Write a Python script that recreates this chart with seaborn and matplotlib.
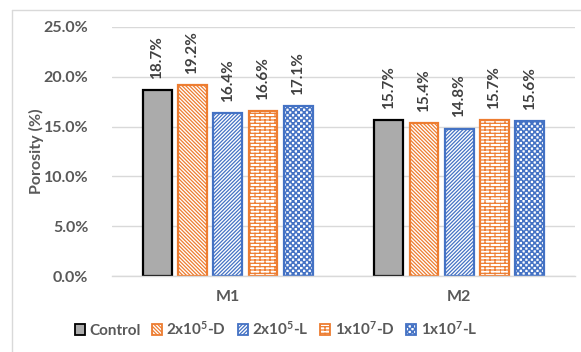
import numpy as np
import pandas as pd
import matplotlib
matplotlib.use("Agg")
import matplotlib.pyplot as plt
import matplotlib.hatch as mhatch
import matplotlib.patches as mpatches
from matplotlib.lines import Line2D
from matplotlib.path import Path
import seaborn as sns

# ---------------- data ----------------
groups = ["M1", "M2"]
series = ["Control", "2x10$^5$-D", "2x10$^5$-L", "1x10$^7$-D", "1x10$^7$-L"]
m1_values = [0.187, 0.192, 0.164, 0.166, 0.171]
m2_values = [0.157, 0.154, 0.148, 0.157, 0.156]
y_ticks = [0.0, 0.05, 0.10, 0.15, 0.20, 0.25]

# ---------------- custom hatch patterns (brick & checkerboard) ----------------
class BrickHatch(mhatch.HatchPatternBase):
    def __init__(self, hatch, density):
        self.rows = int(hatch.count('o') * density)
        if self.rows % 2:
            self.rows += 1
        self.cols = max(self.rows // 3, 1)
        self.num_vertices = (self.rows * 2 + self.rows * self.cols * 2) if self.rows else 0

    def set_vertices_and_codes(self, vertices, codes):
        n, m = self.rows, self.cols
        i = 0
        for k in range(n):
            y = k / n
            vertices[i] = (0.0, y); codes[i] = Path.MOVETO; i += 1
            vertices[i] = (1.0, y); codes[i] = Path.LINETO; i += 1
            off = 0.0 if k % 2 == 0 else 0.5 / m
            for j in range(m):
                x = j / m + off
                vertices[i] = (x, y); codes[i] = Path.MOVETO; i += 1
                vertices[i] = (x, y + 1.0 / n); codes[i] = Path.LINETO; i += 1


class CheckerHatch(mhatch.HatchPatternBase):
    def __init__(self, hatch, density):
        self.n = int(hatch.count('O') * density)
        if self.n % 2:
            self.n += 1
        self.num_squares = (self.n * self.n) // 2
        self.num_vertices = self.num_squares * 5

    def set_vertices_and_codes(self, vertices, codes):
        n = self.n
        s = 1.0 / n
        d = 0.004  # inset so that the stroke does not swallow the white cells
        i = 0
        for r in range(n):
            for c in range(n):
                if (r + c) % 2:
                    continue
                x0, y0 = c * s + d, r * s + d
                w = s - 2 * d
                pts = [(x0, y0), (x0 + w, y0), (x0 + w, y0 + w), (x0, y0 + w), (x0, y0)]
                for p_i, p in enumerate(pts):
                    vertices[i] = p
                    codes[i] = Path.MOVETO if p_i == 0 else (Path.CLOSEPOLY if p_i == 4 else Path.LINETO)
                    i += 1


mhatch._hatch_types[:] = [
    mhatch.HorizontalHatch, mhatch.VerticalHatch, mhatch.NorthEastHatch,
    mhatch.SouthEastHatch, mhatch.SmallFilledCircles, mhatch.Stars,
    BrickHatch, CheckerHatch,
]

# ---------------- style ----------------
sns.set_theme(style="white")
FONT = "Lato"
plt.rcParams["font.family"] = [FONT, "DejaVu Sans"]
plt.rcParams["hatch.linewidth"] = 0.9
plt.rcParams["mathtext.fontset"] = "custom"
plt.rcParams["mathtext.rm"] = FONT
plt.rcParams["mathtext.bf"] = FONT + ":bold"
plt.rcParams["mathtext.default"] = "bf"

TXT = "#595959"
ORANGE = "#ED7D31"
BLUE = "#4472C4"
GRAY = "#ABABAB"

styles = [
    dict(facecolor=GRAY, edgecolor="black", hatch=None, lw=1.6),
    dict(facecolor="white", edgecolor=ORANGE, hatch="\\" * 9, lw=1.6),
    dict(facecolor="white", edgecolor=BLUE, hatch="/" * 9, lw=1.6),
    dict(facecolor="white", edgecolor=ORANGE, hatch="ooooo", lw=1.6),
    dict(facecolor="white", edgecolor=BLUE, hatch="OOOOOO", lw=1.6),
]

df = pd.DataFrame({
    "group": [g for g in groups for _ in series],
    "series": series * len(groups),
    "value": m1_values + m2_values,
})

fig = plt.figure(figsize=(5.81, 3.52), dpi=100)
ax = fig.add_axes([112 / 581, 1 - 276 / 352, (575 - 112) / 581, (276 - 27) / 352])

sns.barplot(data=df, x="group", y="value", hue="series", hue_order=series,
            order=groups, width=0.762, gap=0.18, ax=ax, legend=False,
            palette=[GRAY] * 5, saturation=1)

for cont, st, vals in zip(ax.containers, styles, zip(m1_values, m2_values)):
    for p in cont.patches:
        p.set_facecolor(st["facecolor"])
        p.set_edgecolor(st["edgecolor"])
        p.set_linewidth(st["lw"])
        if st["hatch"]:
            p.set_hatch(st["hatch"])
    ax.bar_label(cont, labels=[f"{v * 100:.1f}%" for v in vals], rotation=90,
                 padding=8, fontsize=11, fontweight="bold", color="#404040")

ax.set_ylim(0, 0.25)
ax.set_yticks(y_ticks)
ax.set_yticklabels([f"{t * 100:.1f}%" for t in y_ticks])
ax.grid(axis="y", color="#D9D9D9", lw=1.0)
ax.set_axisbelow(True)
for s in ["top", "right", "left"]:
    ax.spines[s].set_visible(False)
ax.spines["bottom"].set_color("#D9D9D9")
ax.spines["bottom"].set_linewidth(1.0)
ax.tick_params(axis="y", length=0, pad=17, labelsize=11.5, labelcolor=TXT)
ax.tick_params(axis="x", length=0, pad=10, labelsize=11.5, labelcolor=TXT)
for lab in ax.get_xticklabels() + ax.get_yticklabels():
    lab.set_fontweight("bold")
ax.set_xlabel("")
ax.set_ylabel("Porosity (%)", fontsize=11.5, fontweight="bold", color=TXT, labelpad=0)

handles = [mpatches.Patch(facecolor=st["facecolor"], edgecolor=st["edgecolor"],
                          hatch=st["hatch"], lw=1.3) for st in styles]
leg = fig.legend(handles, series, loc="center", bbox_to_anchor=(276 / 581, 1 - 329 / 352),
                 ncol=5, frameon=False, fontsize=11, handlelength=0.65, handleheight=0.65,
                 handletextpad=0.3, columnspacing=0.75, borderaxespad=0)
for t in leg.get_texts():
    t.set_color(TXT)
    t.set_fontweight("bold")

# chart-area border (light gray)
fig.add_artist(Line2D([12 / 581, 12 / 581], [0, 1 - 10 / 352], transform=fig.transFigure,
                      color="#D9D9D9", lw=1.0))
fig.add_artist(Line2D([12 / 581, 1], [1 - 10 / 352, 1 - 10 / 352], transform=fig.transFigure,
                      color="#D9D9D9", lw=1.0))

fig.savefig("out.png", dpi=100)
